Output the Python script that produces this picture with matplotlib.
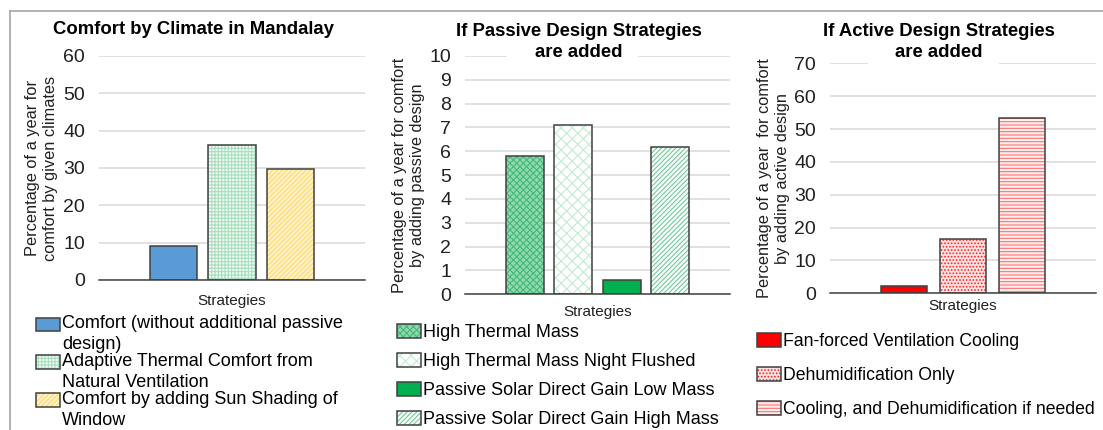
import matplotlib
matplotlib.use('Agg')
import matplotlib.pyplot as plt
from matplotlib.patches import Rectangle
from matplotlib.lines import Line2D
from matplotlib.legend_handler import HandlerTuple

plt.rcParams['font.family'] = ['Liberation Sans', 'DejaVu Sans']
plt.rcParams['hatch.linewidth'] = 0.8

# data
climate_labels = ['Comfort (without additional passive\ndesign)',
                  'Adaptive Thermal Comfort from\nNatural Ventilation',
                  'Comfort by adding Sun Shading of\nWindow']
climate_values = [9.2, 36.1, 29.7]

passive_labels = ['High Thermal Mass', 'High Thermal Mass Night Flushed',
                  'Passive Solar Direct Gain Low Mass',
                  'Passive Solar Direct Gain High Mass']
passive_values = [5.8, 7.1, 0.6, 6.2]

active_labels = ['Fan-forced Ventilation Cooling', 'Dehumidification Only',
                 'Cooling, and Dehumidification if needed']
active_values = [2.3, 16.5, 53.3]

# (face, hatch, hatch colour)
climate_styles = [('#5B9BD5', None, '#5B9BD5'),
                  ('#f4fbf6', '+++++', '#a6dfbd'),
                  ('#fff2cc', '///////', '#ffd966')]
passive_styles = [('#8fd9ad', 'xxxxx', '#45b97a'),
                  ('#ffffff', 'xxx', '#c2ebd1'),
                  ('#00B050', None, '#00B050'),
                  ('#ffffff', '///////', '#6ccc95')]
active_styles = [('#FF0000', None, '#FF0000'),
                 ('#ffe3e3', '.....', '#ff2020'),
                 ('#fff0f0', '-----', '#ff7070')]

W, H = 1103, 430
fig = plt.figure(figsize=(W / 100, H / 100), dpi=100)


class TopLineTuple(HandlerTuple):
    """Overlay handler whose box sits next to the first line of a
    two-line label instead of the last one."""

    def __init__(self, shift, **kw):
        super().__init__(**kw)
        self.shift = shift

    def create_artists(self, legend, orig_handle, xdescent, ydescent,
                       width, height, fontsize, trans):
        return super().create_artists(legend, orig_handle, xdescent,
                                      ydescent - self.shift, width, height,
                                      fontsize, trans)


def px(x0, y0, x1, y1):
    # pixel box -> figure fraction rect
    return [x0 / W, 1 - y1 / H, (x1 - x0) / W, (y1 - y0) / H]


def draw_panel(rect, values, styles, ymax, ystep, width, span,
               ylabel, xlabel_pad, ylabel_pad):
    ax = fig.add_axes(rect)
    n = len(values)
    xs = [i - (n - 1) / 2 for i in range(n)]
    handles = []
    for x, v, (fc, hatch, hc) in zip(xs, values, styles):
        b = ax.bar(x, v, width, color=fc, hatch=hatch, edgecolor=hc,
                   linewidth=0, zorder=2)
        o = ax.bar(x, v, width, fill=False, edgecolor='#404040',
                   linewidth=1.1, zorder=3)
        handles.append((b[0], o[0]))
    ax.set_xlim(-span, span)
    ax.set_ylim(0, ymax)
    ax.set_yticks(range(0, ymax + 1, ystep))
    ax.set_xticks([])
    ax.grid(axis='y', color='#d9d9d9', linewidth=1.1, zorder=0)
    ax.set_axisbelow(True)
    for s in ['top', 'right', 'left']:
        ax.spines[s].set_visible(False)
    ax.spines['bottom'].set_color('#404040')
    ax.spines['bottom'].set_linewidth(1.1)
    ax.tick_params(axis='y', length=0, pad=10, labelsize=14,
                   labelcolor='#202020')
    ax.set_xlabel('Strategies', fontsize=11, labelpad=xlabel_pad,
                  color='#202020')
    ax.set_ylabel(ylabel, fontsize=11.8, labelpad=ylabel_pad,
                  color='#202020', linespacing=1.25)
    return ax, handles


ax1, h1 = draw_panel(px(99, 56, 365, 280), climate_values,
                     climate_styles, 60, 10, 0.8, 2.26,
                     'Percentage of a year for\ncomfort by given climates',
                     10, 4)
ax2, h2 = draw_panel(px(465, 56, 730, 294.3), passive_values,
                     passive_styles, 10, 1, 0.78, 2.74,
                     'Percentage of a year for comfort\nby adding passive design',
                     8, 3)
ax3, h3 = draw_panel(px(830, 63.3, 1096, 293.3), active_values,
                     active_styles, 70, 10, 0.78, 2.25,
                     'Percentage of a year  for comfort\nby adding active design',
                     4, 3)

# titles
fig.text(193 / W, 1 - 30 / H, 'Comfort by Climate in Mandalay',
         ha='center', va='center', fontsize=13.3, fontweight='bold')
fig.text(579 / W, 1 - 42 / H, 'If Passive Design Strategies\nare added',
         ha='center', va='center', fontsize=13.3, fontweight='bold',
         linespacing=1.35)
fig.text(939 / W, 1 - 42 / H, 'If Active Design Strategies\nare added',
         ha='center', va='center', fontsize=13.3, fontweight='bold',
         linespacing=1.35)
# white boxes behind the two-line titles over the top gridline
for x0, x1, y in [(507, 638, 56), (868, 999, 63.3)]:
    fig.add_artist(Rectangle((x0 / W, 1 - (y + 4) / H), (x1 - x0) / W, 8 / H,
                             transform=fig.transFigure, facecolor='white',
                             edgecolor='none', zorder=2.5))

# legends
leg_kw = dict(frameon=False, borderpad=0, borderaxespad=0,
              handlelength=1.35, handleheight=0.8, handletextpad=0.1,
              loc='upper left', bbox_transform=fig.transFigure)
flat = {tuple: HandlerTuple(ndivide=1, pad=0)}
leg1 = fig.legend(h1, climate_labels, bbox_to_anchor=(36 / W, 1 - 315 / H),
                  labelspacing=0.0, fontsize=13,
                  handler_map={tuple: TopLineTuple(7, ndivide=1, pad=0)},
                  **leg_kw)
for t in leg1.get_texts():
    t.set_linespacing(1.3)
fig.legend(h2, passive_labels, bbox_to_anchor=(397 / W, 1 - 324 / H),
           labelspacing=0.66, fontsize=13, handler_map=flat, **leg_kw)
fig.legend(h3, active_labels, bbox_to_anchor=(757 / W, 1 - 333 / H),
           labelspacing=0.97, fontsize=12.7, handler_map=flat, **leg_kw)

# outer frame
fig.add_artist(Line2D([10 / W, 10 / W], [0, 1 - 11 / H], color='#a6a6a6',
                      linewidth=1.2, transform=fig.transFigure))
fig.add_artist(Line2D([10 / W, 1], [1 - 11 / H, 1 - 11 / H], color='#a6a6a6',
                      linewidth=1.2, transform=fig.transFigure))

fig.savefig('out.png', dpi=100)
